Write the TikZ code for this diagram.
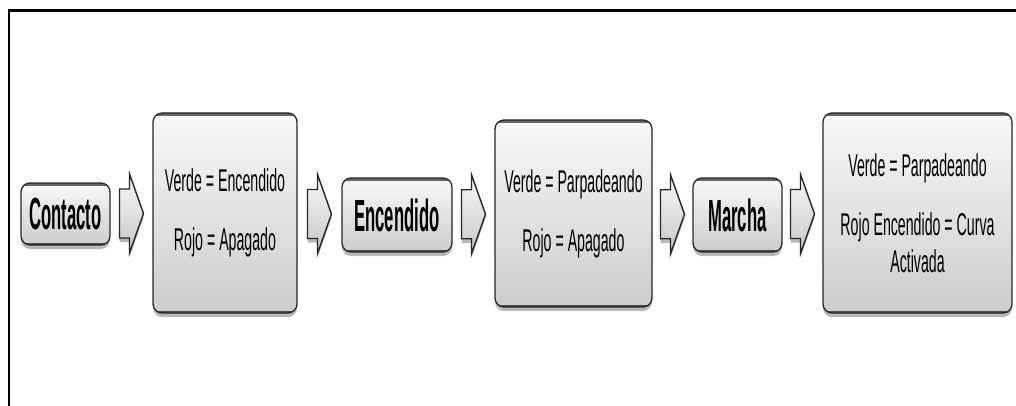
\documentclass[tikz,border=0pt]{standalone}
\usepackage{fontspec}
\setmainfont{Liberation Sans}
\newfontfamily\rnar[FakeStretch=0.45]{Liberation Sans}
\newfontfamily\bnar[FakeStretch=0.37]{Liberation Sans}
\usetikzlibrary{shadows,calc}
\begin{document}
\begin{tikzpicture}[x=1pt,y=-1pt,
  shad/.style={drop shadow={shadow xshift=0pt, shadow yshift=-4pt, opacity=0.28, fill=black}},
  box/.style={draw=black!85, line width=1.3pt, rounded corners=9pt,
    top color=gray!5, bottom color=gray!40, shad, inner sep=0pt, align=center,
    path picture={
      \draw[black!60, line width=6pt] (path picture bounding box.north west) -- (path picture bounding box.north east);
      \draw[black!70, line width=4pt] (path picture bounding box.south west) -- (path picture bounding box.south east);}},
  small/.style={box, font=\bnar\bfseries\fontsize{45}{50}\selectfont},
  big/.style={box, font=\rnar\fontsize{31.5}{37}\selectfont},
  barrow/.pic={
    \draw[black!85, line width=1.4pt, top color=gray!5, bottom color=gray!45, shad]
      (-12,-24.5) -- (-2,-24.5) -- (-2,-39.5) -- (12,0) -- (-2,39.5) -- (-2,24.5) -- (-12,24.5) -- cycle;
  }
]
\useasboundingbox (0,0) rectangle (1016,406);
\fill[white] (0,0) rectangle (1016,406);
\draw[line width=2.5pt] (9,406) -- (9,10.5) -- (1016,10.5);

\node[small, minimum width=89pt, minimum height=62pt] (c) at (65.5,214) {Contacto};
\node[big, minimum width=144pt, minimum height=200pt] (v1) at (225,213) {Verde = Encendido\\[22pt]Rojo = Apagado};
\node[small, minimum width=110pt, minimum height=74pt] (e) at (397,215) {Encendido};
\node[big, minimum width=157pt, minimum height=187pt] (v2) at (573.5,213.5) {Verde = Parpadeando\\[22pt]Rojo = Apagado};
\node[small, minimum width=89pt, minimum height=74pt] (m) at (737.5,215) {Marcha};
\node[big, minimum width=189pt, minimum height=200pt] (v3) at (917.5,213) {Verde = Parpadeando\\[22pt]Rojo Encendido = Curva\\Activada};

\pic at ($(c.east)!0.5!(v1.west)$) {barrow};
\pic at ($(v1.east)!0.5!(e.west)$) {barrow};
\pic at ($(e.east)!0.5!(v2.west)$) {barrow};
\pic at ($(v2.east)!0.5!(m.west)$) {barrow};
\pic at ($(m.east)!0.5!(v3.west)$) {barrow};
\end{tikzpicture}
\end{document}
